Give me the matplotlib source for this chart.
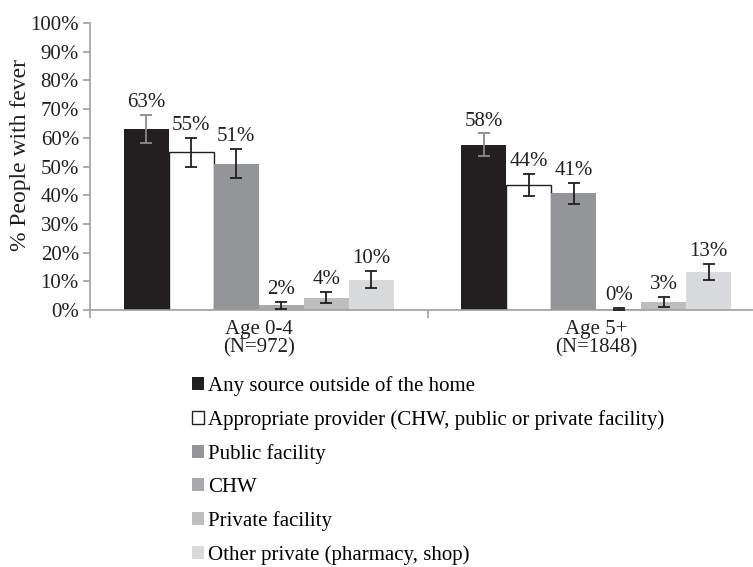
import matplotlib.pyplot as plt
import numpy as np

plt.rcParams['font.family'] = ['Liberation Serif', 'DejaVu Serif']

groups = ['Age 0-4\n(N=972)', 'Age 5+\n(N=1848)']
series = ['Any source outside of the home',
          'Appropriate provider (CHW, public or private facility)',
          'Public facility',
          'CHW',
          'Private facility',
          'Other private (pharmacy, shop)']
# values per series: [Age 0-4, Age 5+]
values = [[63.2, 57.6],
          [54.9, 43.5],
          [51.0, 40.6],
          [1.6, 0.3],
          [4.3, 2.9],
          [10.6, 13.3]]
errors = [[4.9, 3.9],
          [5.1, 3.8],
          [5.1, 3.6],
          [1.3, 0.4],
          [2.0, 1.7],
          [3.1, 2.7]]
labels = [['63%', '58%'],
          ['55%', '44%'],
          ['51%', '41%'],
          ['2%', '0%'],
          ['4%', '3%'],
          ['10%', '13%']]
colors = ['#231f20', '#ffffff', '#939598', '#a7a9ac', '#bcbec0', '#d9dadb']
err_colors = ['#8a8a8a', '#231f20', '#231f20', '#231f20', '#231f20', '#231f20']

FS = 15

fig = plt.figure(figsize=(7.53, 5.67), dpi=100)
ax = fig.add_axes([90 / 753, 257 / 567, 675 / 753, 287 / 567])

x = np.arange(len(groups))
width = 0.1333
for i, name in enumerate(series):
    pos = x + (i - 2.5) * width
    edge = '#231f20' if colors[i] == '#ffffff' else 'none'
    ax.bar(pos, values[i], width, color=colors[i], edgecolor=edge,
           linewidth=1.0, label=name, zorder=2)
    ax.errorbar(pos, values[i], yerr=errors[i], fmt='none',
                ecolor=err_colors[i], elinewidth=1.3, capsize=4, capthick=1.3, zorder=3)
    for j in range(len(groups)):
        ax.text(pos[j], values[i][j] + errors[i][j] + 1.0, labels[i][j],
                ha='center', va='bottom', fontsize=FS, color='#231f20')

ax.set_xlim(-0.5, 1.5)
ax.set_ylim(0, 100)
ax.set_yticks(np.arange(0, 101, 10))
ax.set_yticklabels([f'{v}%' for v in range(0, 101, 10)], fontsize=FS, color='#231f20')
ax.set_xticks(x)
ax.set_xticklabels(groups, fontsize=FS, color='#231f20', linespacing=1.0)
ax.tick_params(axis='x', which='major', length=0, pad=7)
ax.set_xticks([-0.5, 0.5, 1.5], minor=True)
ax.tick_params(axis='x', which='minor', length=6, color='#a0a0a0', width=1.2)
ax.tick_params(axis='y', length=5, color='#a0a0a0', width=1.2, pad=3)
ax.set_ylabel('% People with fever', fontsize=17, color='#231f20')
ax.yaxis.set_label_coords(-0.088, 0.54)

for s in ['top', 'right']:
    ax.spines[s].set_visible(False)
for s in ['left', 'bottom']:
    ax.spines[s].set_color('#a0a0a0')
    ax.spines[s].set_linewidth(1.2)

fig.legend(loc='upper left', bbox_to_anchor=(192 / 753, 1 - 376 / 567),
           frameon=False, fontsize=FS, handlelength=0.58, handleheight=0.58,
           handletextpad=0.2, labelspacing=0.68, borderpad=0, borderaxespad=0)

fig.savefig('out.png', dpi=100)
